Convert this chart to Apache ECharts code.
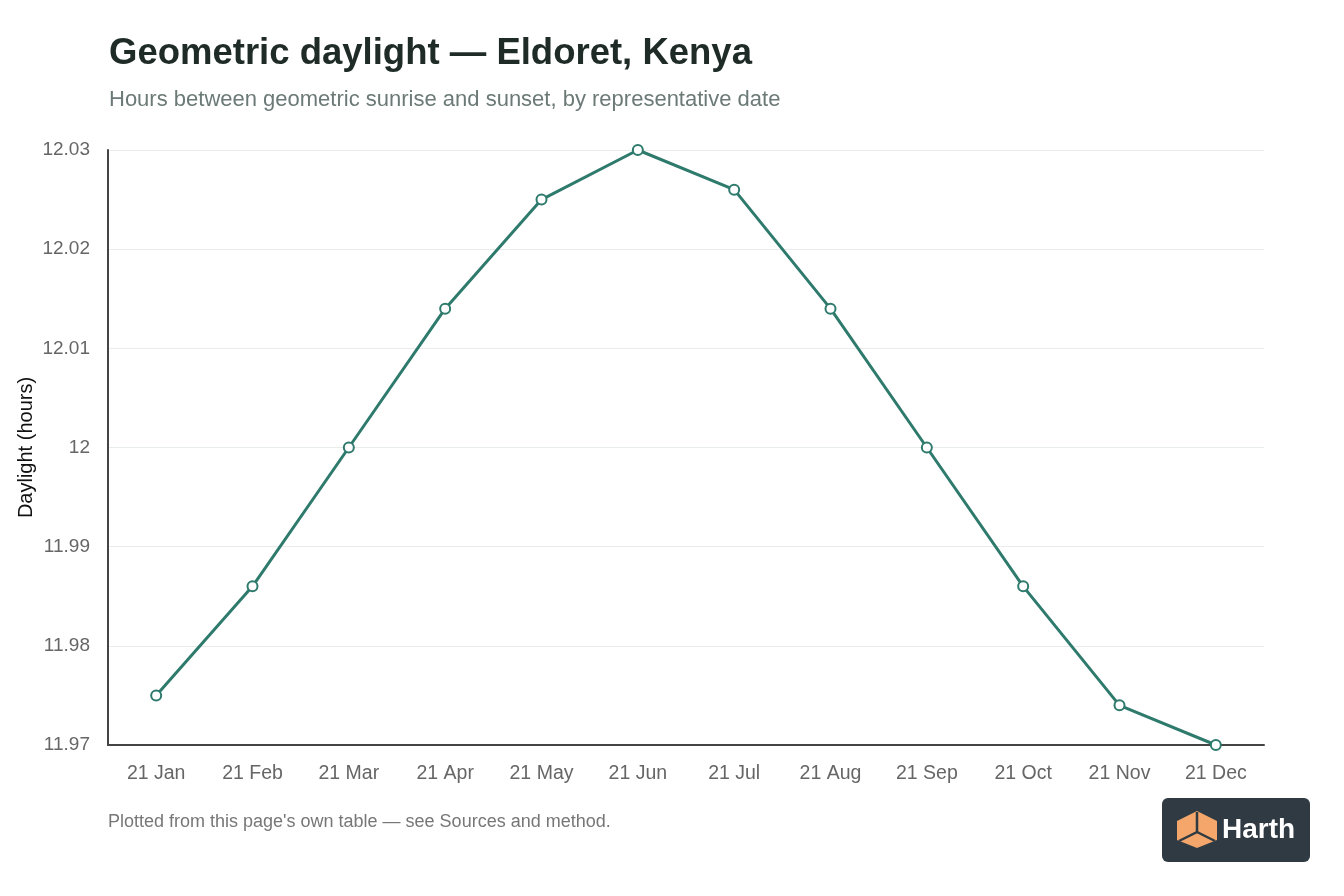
<!DOCTYPE html>
<html lang="en">
<head>
    <meta charset="UTF-8">
    <title>Geometric daylight — Eldoret, Kenya</title>
    <style>
        html, body { margin: 0; padding: 0; background: #fff; }
        #chart { width: 1344px; height: 896px; }
    </style>
    <script src="https://cdn.jsdelivr.net/npm/echarts@6/dist/echarts.min.js"></script>
</head>
<body>
<div id="chart"></div>
<script>
    // data
    var dates = ["21 Jan", "21 Feb", "21 Mar", "21 Apr", "21 May", "21 Jun",
                 "21 Jul", "21 Aug", "21 Sep", "21 Oct", "21 Nov", "21 Dec"];
    var daylight = [11.975, 11.986, 12.000, 12.014, 12.025, 12.030,
                    12.026, 12.014, 12.000, 11.986, 11.974, 11.970];

    var font = "Helvetica, Arial, 'Liberation Sans', sans-serif";
    var myChart = echarts.init(document.getElementById("chart"));

    var option = {
        backgroundColor: "#fff",
        textStyle: { fontFamily: font },
        title: {
            text: "Geometric daylight — Eldoret, Kenya",
            subtext: "Hours between geometric sunrise and sunset, by representative date",
            left: 104,
            top: 30,
            itemGap: 17,
            textStyle: { fontSize: 36.5, fontWeight: "bold", color: "#1e2b27", fontFamily: font },
            subtextStyle: { fontSize: 22, color: "#6b7a77", fontFamily: font }
        },
        grid: { left: 108, right: 80, top: 150, bottom: 151 },
        xAxis: {
            type: "category",
            data: dates,
            boundaryGap: true,
            axisLine: { lineStyle: { color: "#444", width: 2 } },
            axisTick: { show: false },
            axisLabel: { fontSize: 19.5, color: "#666", margin: 19 }
        },
        yAxis: {
            type: "value",
            min: 11.97,
            max: 12.03,
            interval: 0.01,
            name: "Daylight (hours)",
            nameLocation: "middle",
            nameGap: 72,
            nameMoveOverlap: false,
            nameTextStyle: { fontSize: 20, color: "#111" },
            axisLine: { show: true, lineStyle: { color: "#444", width: 2 } },
            axisTick: { show: false },
            axisLabel: {
                fontSize: 19, color: "#666", margin: 18,
                formatter: function (v) { return String(Math.round(v * 100) / 100); }
            },
            splitLine: { lineStyle: { color: "#e8ecea", width: 1 } }
        },
        series: [{
            type: "line",
            data: daylight,
            symbol: "circle",
            symbolSize: 10,
            lineStyle: { color: "#2e7a6c", width: 3 },
            itemStyle: { color: "#fff", borderColor: "#2e7a6c", borderWidth: 2 },
            animation: false
        }],
        graphic: [
            {
                type: "text",
                left: 108,
                top: 813,
                style: { text: "Plotted from this page's own table — see Sources and method.", fontSize: 18, fill: "#777", fontFamily: font }
            },
            {
                type: "group",
                left: 1162,
                top: 798,
                children: [
                    { type: "rect", shape: { x: 0, y: 0, width: 148, height: 64, r: 6 }, style: { fill: "#2f3a42" } },
                    { type: "polygon", shape: { points: [[35, 13], [55, 23], [55, 42], [35, 50], [15, 42], [15, 23]] }, style: { fill: "#f4a66b" } },
                    { type: "polyline", shape: { points: [[35, 14], [35, 34], [17, 43]] }, style: { stroke: "#2f3a42", lineWidth: 2.5, fill: null } },
                    { type: "polyline", shape: { points: [[35, 34], [53, 43]] }, style: { stroke: "#2f3a42", lineWidth: 2.5, fill: null } },
                    { type: "text", x: 60, y: 18, style: { text: "Harth", fontSize: 28, fontWeight: "bold", fill: "#fff", fontFamily: font } }
                ]
            }
        ]
    };
    myChart.setOption(option);
</script>
</body>
</html>
